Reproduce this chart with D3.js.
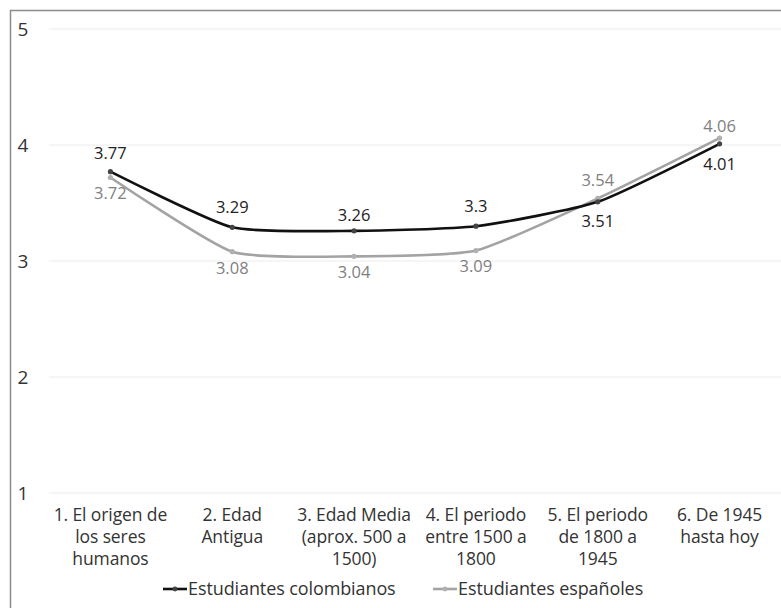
<!DOCTYPE html>
<html><head><meta charset="utf-8">
<script src="https://cdn.jsdelivr.net/npm/d3@7"></script>
<style>body{margin:0;background:#fff;}svg{display:block;font-family:"Open Sans","Noto Sans",sans-serif;}</style>
</head><body>
<svg id="c" width="781" height="608"></svg>
<script>
const categories = [
  ["1. El origen de","los seres","humanos"],
  ["2. Edad","Antigua"],
  ["3. Edad Media","(aprox. 500 a","1500)"],
  ["4. El periodo","entre 1500 a","1800"],
  ["5. El periodo","de 1800 a","1945"],
  ["6. De 1945","hasta hoy"]
];
const colombianos = [3.77, 3.29, 3.26, 3.3, 3.51, 4.01];
const espanoles = [3.72, 3.08, 3.04, 3.09, 3.54, 4.06];
const yTicks = [1, 2, 3, 4, 5];
const seriesNames = ["Estudiantes colombianos", "Estudiantes españoles"];

// label placement (style): vertical offsets of data labels, in px
const labelDyCol = [-19, -20, -16, -20, 19, 20];
const labelDyEsp = [16, 16, 16, 15, -18, -12];

const svg = d3.select("#c");
svg.append("rect").attr("x",10.5).attr("y",10.5).attr("width",790).attr("height",620)
  .attr("fill","#fff").attr("stroke","#8c8c8c").attr("stroke-width",1.5);

const x = d3.scaleBand().domain(d3.range(categories.length)).range([49.5, 780.5]);
const y = d3.scaleLinear().domain([1,5]).range([493, 29]);
const cx = i => x(i) + x.bandwidth()/2;

svg.append("g").selectAll("line").data(yTicks).join("line")
  .attr("x1",49).attr("x2",781).attr("y1",d=>y(d)).attr("y2",d=>y(d))
  .attr("stroke","#ececec").attr("stroke-width",1);
svg.append("g").selectAll("text").data(yTicks).join("text")
  .attr("x",23).attr("y",d=>y(d)).attr("dy","0.36em").attr("text-anchor","middle")
  .attr("font-size",19).attr("fill","#333").text(d=>d);

const cg = svg.append("g");
categories.forEach((lines,i)=>{
  const t = cg.append("text").attr("text-anchor","middle").attr("font-size",17.5).attr("fill","#333")
    .attr("letter-spacing","-0.1");
  lines.forEach((l,j)=>t.append("tspan").attr("x",cx(i)).attr("y",521+j*22).text(l));
});

const line = d3.line().x((d,i)=>cx(i)).y(d=>y(d)).curve(d3.curveCardinal.tension(0.45));
const series = [
  {vals: espanoles, color:"#a3a3a3", mk:"#b0b0b0", label:"#7f7f7f", dy:labelDyEsp},
  {vals: colombianos, color:"#111", mk:"#444", label:"#222", dy:labelDyCol}
];
series.forEach(s=>{
  svg.append("path").attr("d",line(s.vals)).attr("fill","none").attr("stroke",s.color).attr("stroke-width",2.6);
  svg.append("g").selectAll("circle").data(s.vals).join("circle")
    .attr("cx",(d,i)=>cx(i)).attr("cy",d=>y(d)).attr("r",2.6).attr("fill",s.mk);
  svg.append("g").selectAll("text").data(s.vals).join("text")
    .attr("x",(d,i)=>cx(i)).attr("y",(d,i)=>y(d)+s.dy[i]).attr("dy","0.36em")
    .attr("text-anchor","middle").attr("font-size",16.5).attr("fill",s.label).text(d=>d);
});

const leg = [{x:163, color:"#111", mk:"#444", name:seriesNames[0]},{x:433, color:"#a3a3a3", mk:"#b0b0b0", name:seriesNames[1]}];
leg.forEach(l=>{
  svg.append("line").attr("x1",l.x).attr("x2",l.x+24).attr("y1",589).attr("y2",589).attr("stroke",l.color).attr("stroke-width",2.6);
  svg.append("circle").attr("cx",l.x+12).attr("cy",589).attr("r",2.4).attr("fill",l.mk);
  svg.append("text").attr("x",l.x+25).attr("y",589).attr("dy","0.36em").attr("font-size",18)
    .attr("letter-spacing","-0.1").attr("fill","#333").text(l.name);
});
</script>
</body></html>
